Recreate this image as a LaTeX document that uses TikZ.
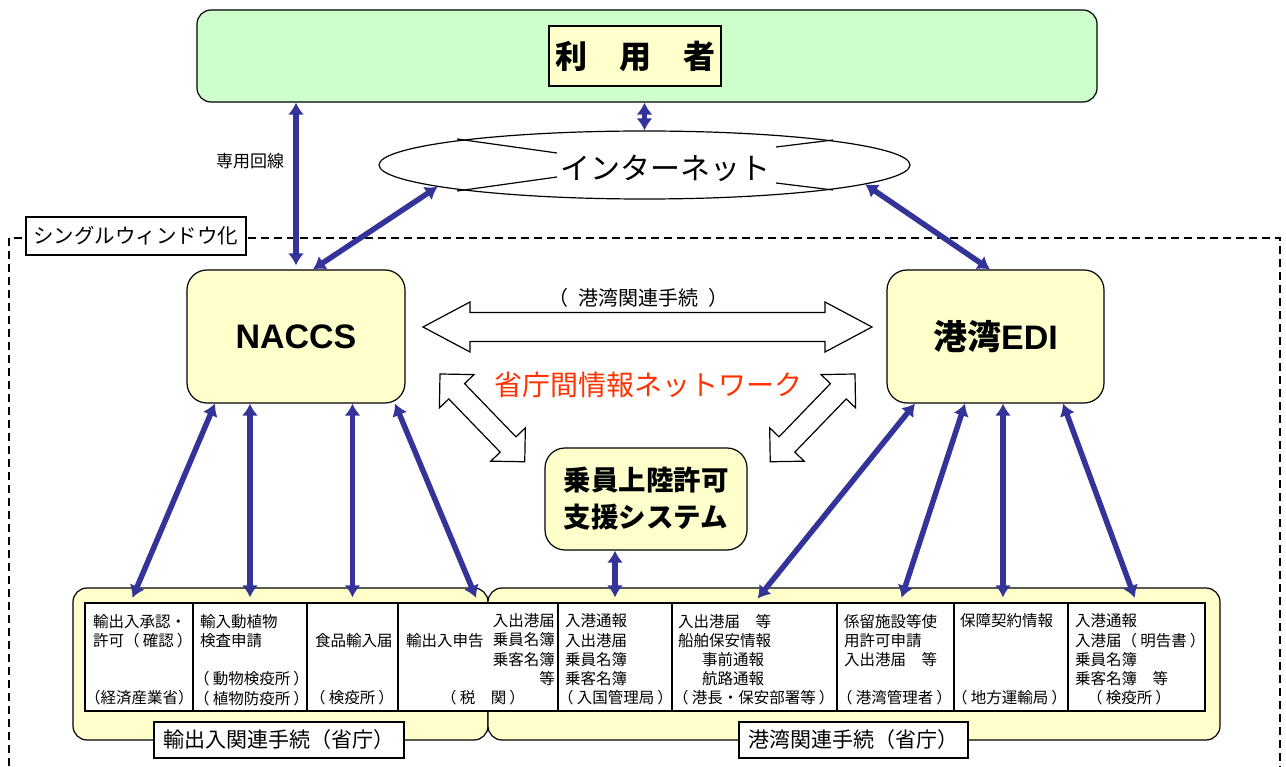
\documentclass[tikz,border=0pt]{standalone}
\usepackage{fontspec}
\setmainfont{Liberation Sans}
\newfontfamily\jp{Noto Sans CJK JP}
\usetikzlibrary{arrows.meta,shapes.geometric}
\definecolor{arrowblue}{HTML}{333399}
\definecolor{paleyellow}{HTML}{FFFFCC}
\definecolor{palegreen}{HTML}{CCFFCC}
\definecolor{netred}{HTML}{FF3300}
\newcommand\kakko[1]{（\hspace{.2em}#1\hspace{.2em}）}
\newcommand\hollowarrow[4]{%
\draw[fill=white,line width=1.2pt] (0,0) -- (#2,#3) -- (#2,#4) -- ({#1-#2},#4) -- ({#1-#2},#3) -- (#1,0)
 -- ({#1-#2},-#3) -- ({#1-#2},-#4) -- (#2,-#4) -- (#2,-#3) -- cycle;}
\begin{document}
\begin{tikzpicture}[x=1pt,y=-1pt,
link/.style={<->,>={Latex[length=12pt,width=16pt]},line width=5.5pt,arrowblue},
tolist/.style={link,shorten >=5pt},
sysbox/.style={draw,line width=1.2pt,fill=paleyellow,rounded corners=20pt,inner sep=0pt},
grp/.style={draw,line width=1.2pt,fill=paleyellow,rounded corners=14pt,inner sep=0pt},
cell/.style={draw,line width=1.2pt,fill=white,minimum height=108pt,inner sep=0pt},
tag/.style={draw,line width=1.2pt,fill=white,minimum height=36pt,inner sep=0pt,font=\jp\fontsize{21}{24}\selectfont},
tt/.style={font=\jp\fontsize{15.5}{19.25}\selectfont,inner sep=0pt,anchor=west,align=left}]
\useasboundingbox (0,0) rectangle (1286,767);
\draw[line width=2pt,dash pattern=on 8pt off 5pt] (9,238) rectangle (1280,800);
\node[tag,minimum width=220pt,minimum height=38pt,font=\jp\fontsize{20.5}{24}\selectfont] (sw) at (136,236) {シングルウィンドウ化};

\node[draw,line width=1.2pt,fill=palegreen,rounded corners=14pt,minimum width=900pt,minimum height=92pt] (user) at (647,56) {};
\node[draw,line width=1.2pt,fill=paleyellow,minimum width=172pt,minimum height=60pt,font=\jp\bfseries\fontsize{32}{36}\selectfont] (title) at (635,56) {利　用　者};

\node[draw,line width=1.2pt,fill=white,ellipse,minimum width=531pt,minimum height=68pt] (inet) at (644.5,165) {};
\draw[line width=1.2pt] (457,139) -- (557,153) (457,191) -- (557,177) (833,140) -- (776,147) (833,190) -- (776,183);
\node[font=\jp\fontsize{30}{34}\selectfont] (inettxt) at (665,168) {インターネット};
\node[font=\jp\fontsize{17}{20}\selectfont] (lease) at (250,161) {専用回線};

\node[sysbox,minimum width=218pt,minimum height=133pt,font=\bfseries\fontsize{34}{40}\selectfont] (naccs) at (296,336.5) {NACCS};
\node[sysbox,minimum width=217pt,minimum height=133pt,font=\bfseries\fontsize{34}{40}\selectfont] (edi) at (995.5,336.5) {{\jp 港湾}EDI};
\node[sysbox,minimum width=202pt,minimum height=102pt,align=center,font=\jp\bfseries\fontsize{27.5}{37}\selectfont] (crew) at (646,499) {乗員上陸許可\\支援システム};

\begin{scope}[shift={(423,327)}] \hollowarrow{449}{47}{25}{14.5} \end{scope}
\begin{scope}[shift={(440,374)},rotate=-46] \hollowarrow{122}{24}{24}{11} \end{scope}
\begin{scope}[shift={(855,374)},rotate=-134] \hollowarrow{122}{24}{24}{11} \end{scope}
\node[font=\jp\fontsize{20}{24}\selectfont] (portlbl) at (638,298) {（\hspace{.5em}港湾関連手続\hspace{.5em}）};
\node[font=\jp\fontsize{28}{32}\selectfont,netred] (govnet) at (648,385) {省庁間情報ネットワーク};

\node[grp,minimum width=415pt,minimum height=152pt] (grpL) at (280.5,664) {};
\node[grp,minimum width=732pt,minimum height=152pt] (grpR) at (854,664) {};
\node[tag,minimum width=250pt] (tagL) at (279,740) {輸出入関連手続（省庁）};
\node[tag,minimum width=229pt] (tagR) at (853.5,740) {港湾関連手続（省庁）};
\foreach \n/\l/\r in {1/85/193,2/193/307,3/307/398,4/398/558,5/558/672,6/672/837,7/837/954,8/954/1068,9/1068/1205}
  \node[cell,minimum width={(\r-\l)*1pt}] (c\n) at ({(\l+\r)/2},657) {};

\node[tt] (t1) at (93,631.5) {輸出入承認・\\許可\kakko{確認}};
\node[tt] (t1o) at (85,698) {（経済産業省）};
\node[tt] (t2) at (200,631.5) {輸入動植物\\検査申請};
\node[tt] (t2o) at (194,688.5) {\kakko{動物検疫所}\\\kakko{植物防疫所}};
\node[tt] (t3) at (315,641) {食品輸入届};
\node[tt] (t3o) at (310,698) {\kakko{検疫所}};
\node[tt] (t4) at (406,641) {輸出入申告};
\node[tt,anchor=east,align=right] (t4p) at (555,649.5) {入出港届\\乗員名簿\\乗客名簿\\等};
\node[tt] (t4o) at (441,698) {\kakko{税　関}};
\node[tt] (t5) at (565,650) {入港通報\\入出港届\\乗員名簿\\乗客名簿};
\node[tt] (t5o) at (558,698) {\kakko{入国管理局}};
\node[tt] (t6) at (678,650) {入出港届　等\\船舶保安情報\\\hspace*{24pt}事前通報\\\hspace*{24pt}航路通報};
\node[tt] (t6o) at (673,698) {\kakko{港長・保安部署等}};
\node[tt] (t7) at (844,640.5) {係留施設等使\\用許可申請\\入出港届　等};
\node[tt] (t7o) at (837,698) {\kakko{港湾管理者}};
\node[tt] (t8) at (960,621) {保障契約情報};
\node[tt] (t8o) at (952,698) {\kakko{地方運輸局}};
\node[tt] (t9) at (1075,650) {入港通報\\入港届\kakko{明告書}\\乗員名簿\\乗客名簿　等};
\node[tt] (t9o) at (1087,698) {\kakko{検疫所}};

\draw[link] (user.south -| inet.north) -- (inet.north);
\draw[link,shorten >=4pt] (naccs.north |- user.south) -- (naccs.north);
\draw[link] (inet.186) -- ([xshift=17pt]naccs.north);
\draw[link] (inet.-5) -- ([xshift=-5.5pt]edi.north);
\draw[tolist] ([xshift=-81pt]naccs.south) -- ([xshift=-8.5pt]c1.north);
\draw[tolist] ([xshift=-46pt]naccs.south) -- (c2.north);
\draw[tolist] ([xshift=56.5pt]naccs.south) -- (c3.north);
\draw[tolist] ([xshift=99pt]naccs.south) -- (c4.north);
\draw[tolist] (crew.south -| c5.north) -- (c5.north);
\draw[tolist] ([xshift=-80.5pt]edi.south) -- (c6.north);
\draw[tolist] ([xshift=-30.5pt]edi.south) -- ([xshift=4.5pt]c7.north);
\draw[tolist] ([xshift=7.5pt]edi.south) -- ([xshift=-8pt]c8.north);
\draw[tolist] ([xshift=67.5pt]edi.south) -- (c9.north);
\end{tikzpicture}
\end{document}
